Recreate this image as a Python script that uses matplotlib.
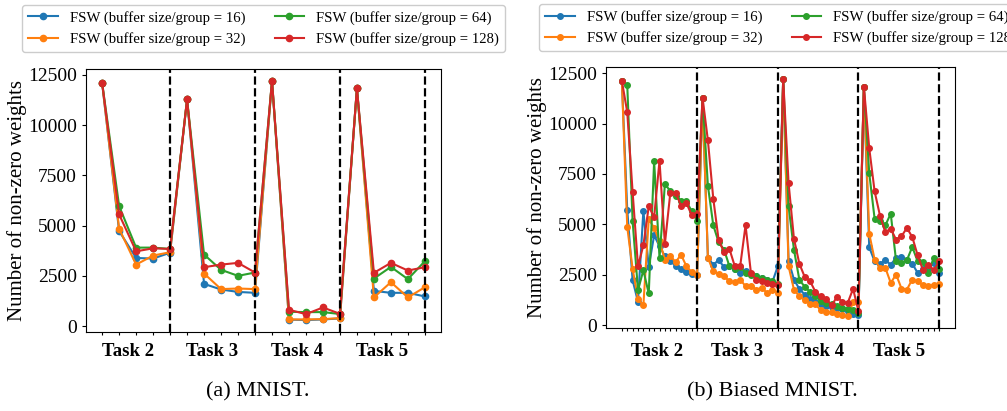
import numpy as np
import matplotlib
matplotlib.use("Agg")
import matplotlib.pyplot as plt
from matplotlib.transforms import blended_transform_factory

plt.rcParams['font.family'] = ['Liberation Serif', 'DejaVu Serif']

labels = ["FSW (buffer size/group = 16)", "FSW (buffer size/group = 32)",
          "FSW (buffer size/group = 64)", "FSW (buffer size/group = 128)"]
task_names = ["Task 2", "Task 3", "Task 4", "Task 5"]
colors = ["#1f77b4", "#ff7f0e", "#2ca02c", "#d62728"]

# (a) MNIST: 5 points per task
mnist_16 = [12100, 4730, 3390, 3360, 3650, 11280, 2100, 1820, 1700, 1655,
            12200, 320, 300, 330, 380, 11830, 1750, 1655, 1655, 1475]
mnist_32 = [12100, 4850, 3060, 3510, 3675, 11280, 2615, 1840, 1870, 1840,
            12200, 330, 330, 345, 395, 11830, 1425, 2185, 1425, 1935]
mnist_64 = [12100, 5975, 3905, 3905, 3840, 11280, 3560, 2800, 2500, 2665,
            12200, 710, 695, 695, 600, 11830, 2365, 2945, 2335, 3230]
mnist_128 = [12100, 5560, 3720, 3870, 3840, 11280, 2930, 3060, 3145, 2665,
             12200, 810, 595, 925, 610, 11830, 2650, 3145, 2765, 2930]

# (b) Biased MNIST: 15 points per task
biased_16 = [12120, 5730, 2230, 1156, 5680, 2890, 4458, 3913, 3418, 3170, 2956, 2790, 2642, 2560, 2510,
             11295, 3335, 3005, 3220, 2890, 2956, 2790, 2592, 2675, 2543, 2460, 2345, 2262, 2147, 2923,
             12220, 3203, 2262, 1800, 1519, 1305, 1139, 1024, 941, 908, 859, 776, 694, 528, 495,
             11840, 3864, 3170, 3055, 3220, 3005, 3335, 3385, 3253, 3055, 2592, 2790, 2840, 3088, 2592]
biased_32 = [12120, 4871, 2790, 1305, 974, 5267, 4822, 4161, 3253, 3450, 3120, 3500, 2923, 2625, 2510,
             11295, 3335, 2675, 2560, 2427, 2180, 2130, 2262, 1932, 1965, 1767, 1849, 1602, 1767, 1602,
             12220, 2923, 1767, 1437, 1238, 1057, 1024, 743, 644, 644, 528, 495, 446, 1139, 1139,
             11840, 4541, 3253, 2840, 2840, 2097, 2510, 1816, 1767, 2262, 2180, 1981, 1965, 1981, 2048]
biased_64 = [12120, 11920, 5150, 1734, 2725, 1570, 8125, 3335, 6985, 6670, 6423, 6176, 6143, 5647, 5168,
             11295, 6919, 4954, 4112, 3748, 2923, 2790, 2890, 2592, 2510, 2427, 2345, 2262, 2180, 2064,
             12220, 5895, 3748, 2262, 1899, 1651, 1437, 1189, 1106, 1024, 941, 859, 809, 743, 611,
             11840, 7546, 5284, 5152, 4954, 5532, 3170, 3088, 3220, 3880, 3170, 3137, 2592, 3335, 2807]
biased_128 = [12120, 10570, 6605, 2920, 3960, 5895, 5350, 8157, 4030, 6540, 6572, 5928, 6060, 5450, 5515,
              11295, 9165, 6275, 4210, 3633, 3781, 2923, 2923, 4954, 2592, 2262, 2180, 2097, 2064, 1981,
              12220, 7051, 4293, 3055, 2394, 2180, 1651, 1437, 1321, 974, 1404, 1156, 1106, 1800, 694,
              11840, 8785, 6638, 5433, 4607, 4772, 4244, 4409, 4822, 4376, 3468, 2725, 3005, 2725, 3170]

fig = plt.figure(figsize=(10.07, 4.11), dpi=100)
axL = fig.add_axes([86/1007, 1-332/411, 355/1007, 263/411])
axR = fig.add_axes([606/1007, 1-328/411, 349/1007, 261/411])


def draw(ax, series, per_task, ms, label_y, leg_y):
    for s, c, lab in zip(series, colors, labels):
        x = np.arange(len(s))
        ax.plot(x, s, '-o', color=c, lw=1.5, ms=ms, label=lab)
    n = len(series[0])
    for k in range(1, 5):
        ax.axvline(k*per_task - 1, color='black', ls='--', lw=1.6)
    ax.set_xticks(np.arange(n))
    ax.set_xticklabels([])
    ax.tick_params(axis='x', length=2.5, width=0.8)
    ax.tick_params(axis='y', length=3, width=0.8, labelsize=14)
    ax.set_yticks([0, 2500, 5000, 7500, 10000, 12500])
    ax.set_ylabel("Number of non-zero weights", fontsize=15, labelpad=1)
    tr = blended_transform_factory(ax.transData, ax.transAxes)
    for k, name in enumerate(task_names):
        cx = (k*per_task - 1 + (k+1)*per_task - 1) / 2
        ax.text(cx, label_y, name, transform=tr, ha='center', va='center',
                fontsize=13.5, fontweight='bold')
    ax.legend(loc='lower center', bbox_to_anchor=(0.5, leg_y), ncol=2,
              fontsize=10.6, borderaxespad=0, columnspacing=2.0,
              handlelength=2.0, framealpha=1, edgecolor='#cccccc')


draw(axL, [mnist_16, mnist_32, mnist_64, mnist_128], 5, 4.5, -0.074, 1.065)
draw(axR, [biased_16, biased_32, biased_64, biased_128], 15, 4.0, -0.09, 1.061)

fig.text(258/1007, 1-392/411, "(a) MNIST.", ha='center', va='center', fontsize=16)
fig.text(772/1007, 1-392/411, "(b) Biased MNIST.", ha='center', va='center', fontsize=16)

fig.savefig("out.png", dpi=100)
